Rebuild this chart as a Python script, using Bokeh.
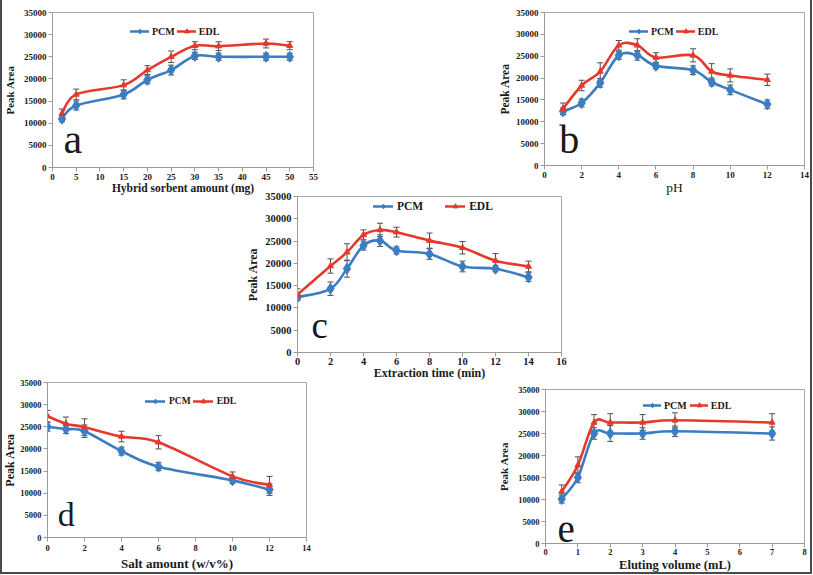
import numpy as np
from bokeh.plotting import figure
from bokeh.models import (ColumnDataSource, Range1d, FixedTicker, Whisker, TeeHead,
                          Legend, LegendItem, Label, Spacer)
from bokeh.layouts import column, row
from bokeh.embed import file_html
from bokeh.resources import INLINE

# ---------------- data ----------------
y_ticks = [0, 5000, 10000, 15000, 20000, 25000, 30000, 35000]

a_x = [2, 5, 15, 20, 25, 30, 35, 45, 50]
a_pcm = [11000, 14000, 16500, 19800, 22000, 25200, 25000, 25000, 25000]
a_pcm_err = [700, 1000, 1000, 900, 1100, 800, 800, 800, 800]
a_edl = [12200, 16500, 18600, 22000, 25000, 27500, 27400, 28000, 27500]
a_edl_err = [1000, 1200, 1200, 1000, 1300, 900, 1000, 1000, 900]
a_xticks = [0, 5, 10, 15, 20, 25, 30, 35, 40, 45, 50, 55]

b_x = [1, 2, 3, 4, 5, 6, 8, 9, 10, 12]
b_pcm = [12400, 14300, 18900, 25200, 25200, 22800, 21800, 19100, 17300, 14000]
b_pcm_err = [800, 900, 1000, 900, 1100, 700, 1000, 900, 1100, 1000]
b_edl = [13000, 18300, 21500, 27500, 27500, 24700, 25200, 21500, 20600, 19600]
b_edl_err = [1300, 1200, 2000, 1100, 1500, 1100, 1500, 1800, 1500, 1300]
b_xticks = [0, 2, 4, 6, 8, 10, 12, 14]

c_x = [0, 2, 3, 4, 5, 6, 8, 10, 12, 14]
c_pcm = [12400, 14300, 18800, 24000, 25100, 22900, 22100, 19300, 18800, 16900]
c_pcm_err = [600, 1500, 1900, 1000, 1300, 800, 1200, 1200, 700, 1000]
c_edl = [13000, 19400, 22500, 26400, 27500, 27000, 25100, 23500, 20600, 19300]
c_edl_err = [1300, 1600, 1900, 1100, 1500, 1100, 1700, 1400, 1600, 1200]
c_xticks = [0, 2, 4, 6, 8, 10, 12, 14, 16]

d_x = [0, 1, 2, 4, 6, 10, 12]
d_pcm = [25000, 24500, 24000, 19500, 16000, 12900, 10800]
d_pcm_err = [1000, 1000, 1400, 900, 900, 700, 1300]
d_edl = [27400, 25700, 24900, 22800, 21500, 13800, 11900]
d_edl_err = [1300, 1500, 1900, 1200, 1500, 1000, 1900]
d_xticks = [0, 2, 4, 6, 8, 10, 12, 14]

e_x = [0.5, 1, 1.5, 2, 3, 4, 7]
e_pcm = [10100, 15000, 25000, 25000, 25000, 25500, 25000]
e_pcm_err = [900, 1200, 1300, 1800, 1300, 1200, 1500]
e_edl = [11800, 17800, 27500, 27500, 27500, 28000, 27500]
e_edl_err = [1500, 1900, 1800, 2000, 1800, 1700, 2000]
e_xticks = [0, 1, 2, 3, 4, 5, 6, 7, 8]

series_names = ["PCM", "EDL"]

# ---------------- style ----------------
SERIF = "Liberation Serif"
PCM_COLOR = "#3b7dc2"
EDL_COLOR = "#e5392b"
ERR_COLOR = "#505050"
AXIS_COLOR = "#9a9a9a"
TEXT_COLOR = "#1a1a1a"


def smooth_source(x, y):
    """Catmull-Rom style bezier segments through the data points (Excel-like smoothed line)."""
    x = np.asarray(x, float)
    y = np.asarray(y, float)
    n = len(x)
    qx = np.concatenate([[x[0]], x, [x[-1]]])
    qy = np.concatenate([[y[0]], y, [y[-1]]])
    cx0 = qx[1:n] + (qx[2:n + 1] - qx[0:n - 1]) / 6.0
    cy0 = qy[1:n] + (qy[2:n + 1] - qy[0:n - 1]) / 6.0
    cx1 = qx[2:n + 1] - (qx[3:n + 2] - qx[1:n]) / 6.0
    cy1 = qy[2:n + 1] - (qy[3:n + 2] - qy[1:n]) / 6.0
    return ColumnDataSource(dict(x0=x[:-1], y0=y[:-1], x1=x[1:], y1=y[1:],
                                 cx0=cx0, cy0=cy0, cx1=cx1, cy1=cy1))


def panel(W, H, L, R, T, B, xr, xticks, xlabel, xs, pcm, pcm_err, edl, edl_err,
          tick_fs, xlab_fs, ylab_fs, xlab_style, leg_loc, leg_fs, leg_glyph_w,
          leg_standoff, leg_spacing, letter, letter_pos, letter_fs,
          x_tick_so, x_lab_so, y_lab_so):
    p = figure(width=W, height=H, x_range=Range1d(*xr), y_range=Range1d(0, 35000),
               output_backend="svg", toolbar_location=None,
               min_border_left=L, min_border_right=R, min_border_top=T, min_border_bottom=B,
               border_fill_color=None, background_fill_color=None,
               outline_line_color="#a8a8a8", outline_line_width=1)
    p.grid.visible = False
    p.xaxis.ticker = FixedTicker(ticks=xticks)
    p.yaxis.ticker = FixedTicker(ticks=y_ticks)
    for ax in (p.xaxis[0], p.yaxis[0]):
        ax.axis_line_color = AXIS_COLOR
        ax.major_tick_line_color = AXIS_COLOR
        ax.minor_tick_line_color = None
        ax.major_tick_out = 4
        ax.major_tick_in = 0
        ax.major_label_text_font = SERIF
        ax.major_label_text_font_style = "bold"
        ax.major_label_text_font_size = tick_fs
        ax.major_label_text_color = TEXT_COLOR
        ax.major_label_standoff = 2
        ax.axis_label_text_font = SERIF
        ax.axis_label_text_color = TEXT_COLOR
    p.xaxis.axis_label = xlabel
    p.xaxis.axis_label_text_font_size = xlab_fs
    p.xaxis.axis_label_text_font_style = xlab_style
    p.xaxis.major_label_standoff = x_tick_so
    p.xaxis.axis_label_standoff = x_lab_so
    p.yaxis.axis_label = "Peak Area"
    p.yaxis.axis_label_text_font_size = ylab_fs
    p.yaxis.axis_label_text_font_style = "bold"
    p.yaxis.axis_label_standoff = y_lab_so

    items = []
    for name, yv, err, color, marker, msize in (
            (series_names[0], pcm, pcm_err, PCM_COLOR, "diamond", 11),
            (series_names[1], edl, edl_err, EDL_COLOR, "triangle", 6)):
        line_r = p.bezier(x0="x0", y0="y0", x1="x1", y1="y1", cx0="cx0", cy0="cy0",
                          cx1="cx1", cy1="cy1", source=smooth_source(xs, yv),
                          line_color=color, line_width=2.6, line_cap="round")
        src = ColumnDataSource(dict(x=xs, y=yv,
                                    upper=[v + e for v, e in zip(yv, err)],
                                    lower=[v - e for v, e in zip(yv, err)]))
        mk_r = p.scatter("x", "y", source=src, marker=marker, size=msize,
                         fill_color=color, line_color=color)
        p.add_layout(Whisker(source=src, base="x", upper="upper", lower="lower",
                             dimension="height", line_color=ERR_COLOR, line_width=1,
                             upper_head=TeeHead(size=6, line_color=ERR_COLOR, line_width=1),
                             lower_head=TeeHead(size=6, line_color=ERR_COLOR, line_width=1)))
        items.append(LegendItem(label=name, renderers=[line_r, mk_r]))

    leg = Legend(items=items, orientation="horizontal", location=leg_loc,
                 background_fill_alpha=0, border_line_color=None, padding=0, margin=0,
                 spacing=leg_spacing, glyph_width=leg_glyph_w, glyph_height=12,
                 label_height=12, label_standoff=leg_standoff,
                 label_text_font=SERIF, label_text_font_style="bold",
                 label_text_font_size=leg_fs, label_text_color=TEXT_COLOR)
    p.add_layout(leg)

    p.add_layout(Label(x=letter_pos[0], y=letter_pos[1], text=letter, text_font=SERIF,
                       text_font_size=letter_fs, text_color=TEXT_COLOR,
                       text_baseline="bottom"))
    return p


pa = panel(322, 198, 52, 9, 12, 31, (0, 55), a_xticks, "Hybrid sorbent amount (mg)",
           a_x, a_pcm, a_pcm_err, a_edl, a_edl_err,
           "9px", "11.5px", "11px", "bold", (78, 130), "10px", 19, 3, 2,
           "a", (2.3, 1130), "42px", 2, -1, 5)

pb = panel(317, 198, 48, 8, 12, 33, (0, 14), b_xticks, "pH",
           b_x, b_pcm, b_pcm_err, b_edl, b_edl_err,
           "9px", "13.5px", "11.5px", "normal", (85, 128), "10px", 19, 3, 2,
           "b", (0.8, 780), "40px", 2, -1, 2)

pc = panel(335, 196, 57, 14, 10, 30, (0, 16), c_xticks, "Extraction time (min)",
           c_x, c_pcm, c_pcm_err, c_edl, c_edl_err,
           "10.5px", "12px", "12px", "bold", (76, 140), "11.5px", 20, 4, 22,
           "c", (0.85, 1570), "37px", 1, -2, 2)

pd = panel(322, 202, 45, 16, 10, 37, (0, 14), d_xticks, "Salt amount (w/v%)",
           d_x, d_pcm, d_pcm_err, d_edl, d_edl_err,
           "8.5px", "13px", "12px", "bold", (98, 130), "9.5px", 20, 4, 2,
           "d", (0.55, 1060), "34px", 3, 2, 0)

pe = panel(317, 202, 50, 8, 17, 30, (0, 8), e_xticks, "Eluting volume (mL)",
           e_x, e_pcm, e_pcm_err, e_edl, e_edl_err,
           "8.5px", "12.5px", "11px", "bold", (98, 132), "10px", 18, 3, 3,
           "e", (0.37, 300), "39px", 1, 0, 5)

# each panel sits in its own row; rows overlap through negative top margins
layout = column(
    row(pa),
    row(Spacer(width=495, height=198), pb, margin=(-198, 0, 0, 0)),
    row(Spacer(width=240, height=196), pc, margin=(-12, 0, 0, 0)),
    row(pd, margin=(-10, 0, 0, 0)),
    row(Spacer(width=495, height=202), pe, margin=(-202, 0, 0, 0)),
    width=812, height=574,
    styles={"box-shadow": "inset 2px 0 0 #4a4a4a, inset -2px 0 0 #4a4a4a, inset 0 -2px 0 #4a4a4a"},
)

open("out.html", "w").write(file_html(layout, INLINE))
